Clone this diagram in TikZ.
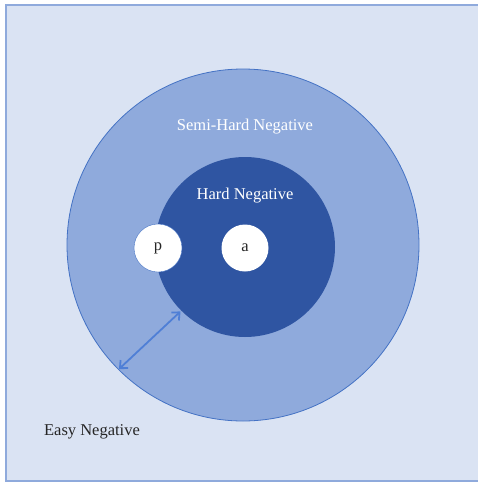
\documentclass[tikz,border=0pt]{standalone}
\usepackage{fontspec}
\setmainfont{Liberation Serif}
\usetikzlibrary{arrows.meta}
\definecolor{easyblue}{HTML}{DAE3F3}
\definecolor{semiblue}{HTML}{8FAADC}
\definecolor{hardblue}{HTML}{2F55A2}
\definecolor{edgeblue}{HTML}{4472C4}
\definecolor{arrowblue}{HTML}{4F7FD6}
\definecolor{textgray}{HTML}{262626}
\begin{document}
\begin{tikzpicture}[x=1pt,y=-1pt,font=\fontsize{16.5}{20}\selectfont]

      \useasboundingbox (0,0) rectangle (478,483);
      \draw[fill=easyblue,draw=semiblue,line width=1.2pt] (6,5) rectangle (495,481);

      \begin{scope}[every node/.style={circle,inner sep=0pt,text=textgray}]
        \node[fill=semiblue,draw=edgeblue,line width=0.8pt,minimum size=352pt] (outer) at (243,245) {};
        \node[fill=hardblue,minimum size=180pt] (inner) at (245,247) {};
        \node[fill=white,draw=edgeblue,line width=0.4pt,minimum size=48pt] (p) at (158,248) {p};
        \node[fill=white,minimum size=47pt] (a) at (245,248) {a};
      \end{scope}

      \begin{scope}[every node/.style={text=white}]
        \node (semi) at (245,127) {Semi-Hard Negative};
        \node (hard) at (245,196) {Hard Negative};
      \end{scope}
      \node[text=textgray] (easy) at (92,432) {Easy Negative};

      \path (inner.225) edge[draw=arrowblue,line width=1.8pt,{Straight Barb[length=6pt,width=11pt]}-{Straight Barb[length=6pt,width=11pt]},
        shorten <=1pt,shorten >=1pt] (outer.225);

    \end{tikzpicture}
\end{document}
